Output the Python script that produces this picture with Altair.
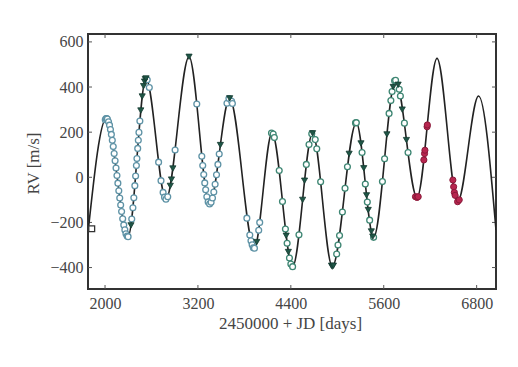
import altair as alt
import pandas as pd

# ---- model curve (read at extrema) ----
curve_x = [1784, 2017, 2297, 2529, 2787, 3085, 3351, 3609, 3928, 4157, 4423,
           4681, 4936, 5246, 5469, 5753, 6030, 6288, 6554, 6825, 7050]
curve_y = [-233, 261, -263, 438, -97, 534, -118, 350, -314, 197, -396,
           195, -396, 242, -266, 430, -89, 527, -108, 360, -233]

# ---- observations ----
blue_x = [2003, 2012, 2022,
          2030, 2045, 2058, 2070, 2082, 2094, 2106, 2118, 2130, 2142, 2154,
          2166, 2178, 2190, 2202, 2214, 2228, 2242, 2256, 2270, 2285, 2298,
          2345, 2360, 2372, 2385, 2395, 2405, 2412, 2422, 2430, 2438, 2450,
          2545, 2572, 2692, 2723, 2750, 2768, 2787, 2810, 2905,
          3185, 3250, 3262, 3275, 3288, 3300, 3315, 3332, 3351,
          3370, 3388, 3405, 3422, 3440, 3458, 3475,
          3575, 3600, 3635, 3645,
          3832, 3870, 3885, 3900, 3915, 3930, 3985, 3998]
blue_y = [255, 260, 260,
          258, 246, 231, 212, 190, 164, 136, 105, 73, 41, 8,
          -26, -60, -92, -123, -152, -184, -211, -233, -250, -260, -263,
          -185, -135, -91, -37, 6, 52, 83, 128, 164, 199, 249,
          432, 398, 67, -15, -67, -88, -97, -86, 121,
          325, 93, 52, 12, -25, -55, -86, -109, -118,
          -111, -92, -65, -31, 11, 57, 103,
          328, 349, 337, 327,
          -181, -256, -281, -299, -312, -314, -235, -200]

teal_x = [4150, 4172, 4187, 4250, 4292, 4330, 4352, 4382, 4400, 4423,
          4505, 4600, 4635, 4670, 4715, 4735, 4785,
          4992, 5009, 5029, 5066, 5100, 5131,
          5235, 5246, 5320, 5362, 5388, 5418, 5469,
          5583, 5611, 5669, 5692, 5708, 5740, 5753, 5800, 5815, 5867, 5914]
teal_y = [196, 192, 176, 30, -107, -229, -292, -358, -384, -396,
          -255, 57, 145, 193, 167, 126, -20,
          -340, -300, -258, -154, -49, 47,
          241, 242, 110, -30, -110, -190, -266,
          -19, 82, 283, 340, 380, 428, 430, 390, 360, 240, 110]

tri_x = [2335, 2462, 2480, 2498, 2510, 2520, 2530, 2843, 2858, 2876, 3085,
         3490, 3610, 3960, 4340, 4368, 4552, 4577, 4681,
         4925, 4936, 4950, 5153, 5306, 5342, 5378, 5400, 5440, 5458,
         5641, 5722, 5786, 5839, 5893]
tri_y = [-213, 296, 358, 404, 424, 435, 438, -38, -10, 39, 534,
         143, 350, -287, -259, -331, -100, -15, 195,
         -392, -396, -392, 104, 150, 40, -80, -145, -240, -263,
         190, 400, 410, 300, 165]

red_x = [6010, 6030, 6045, 6118, 6127, 6132, 6160, 6163,
         6493, 6503, 6512, 6522, 6554, 6575]
red_y = [-86, -89, -86, 77, 105, 120, 224, 232,
         -12, -42, -67, -80, -108, -100]

sq_x = [1828]
sq_y = [-228]

x_ticks = [2000, 3200, 4400, 5600, 6800]
y_ticks = [-400, -200, 0, 200, 400, 600]

W, H = 408, 255
FONT = "Liberation Serif"
TXT = "#454545"

xs = alt.Scale(domain=[1780, 7050], nice=False, zero=False)
ys = alt.Scale(domain=[-495, 635], nice=False, zero=False)
xaxis = alt.Axis(values=x_ticks, format="d", ticks=False, domain=False, grid=False,
                 labelFont=FONT, labelFontSize=16, labelColor=TXT, labelPadding=6,
                 title="2450000 + JD [days]", titleFont=FONT, titleFontSize=17,
                 titleFontWeight="normal", titleColor=TXT, titleX=202, titleY=34,
                 titleBaseline="middle", titleAlign="center")
yaxis = alt.Axis(values=y_ticks, format="d", ticks=False, domain=False, grid=False,
                 labelFont=FONT, labelFontSize=16, labelColor=TXT, labelPadding=5,
                 title="RV [m/s]", titleFont=FONT, titleFontSize=17,
                 titleFontWeight="normal", titleColor=TXT, titleX=-55, titleY=129,
                 titleAngle=270, titleBaseline="middle", titleAlign="center")


def enc(ch):
    return ch.encode(x=alt.X("x:Q", scale=xs, axis=xaxis),
                     y=alt.Y("y:Q", scale=ys, axis=yaxis))


curve = enc(alt.Chart(pd.DataFrame({"x": curve_x, "y": curve_y})).mark_line(
    color="#222222", strokeWidth=1.6, interpolate="monotone", clip=True))

blue = enc(alt.Chart(pd.DataFrame({"x": blue_x, "y": blue_y})).mark_point(
    shape="circle", filled=True, fill="white", stroke="#5f93a6", strokeWidth=1.3,
    size=34, opacity=1))
teal = enc(alt.Chart(pd.DataFrame({"x": teal_x, "y": teal_y})).mark_point(
    shape="circle", filled=True, fill="white", stroke="#3e8673", strokeWidth=1.3,
    size=34, opacity=1))
tri = enc(alt.Chart(pd.DataFrame({"x": tri_x, "y": tri_y})).mark_point(
    shape="triangle-down", filled=True, fill="#1f5646", stroke="#143a30",
    strokeWidth=0.8, size=38, opacity=1))
red = enc(alt.Chart(pd.DataFrame({"x": red_x, "y": red_y})).mark_point(
    shape="circle", filled=True, fill="#b8264f", stroke="#8a1a3a", strokeWidth=1,
    size=38, opacity=1))
sq = enc(alt.Chart(pd.DataFrame({"x": sq_x, "y": sq_y})).mark_point(
    shape="square", filled=True, fill="white", stroke="#333333", strokeWidth=1.3,
    size=34, opacity=1))

xt = pd.DataFrame({"x": x_ticks})
yt = pd.DataFrame({"y": y_ticks})
tick_col = "#555555"
xt_top = alt.Chart(xt).mark_rule(color=tick_col, strokeWidth=1).encode(
    x=alt.X("x:Q", scale=xs, axis=xaxis), y=alt.value(0), y2=alt.value(4))
xt_bot = alt.Chart(xt).mark_rule(color=tick_col, strokeWidth=1).encode(
    x=alt.X("x:Q", scale=xs, axis=xaxis), y=alt.value(H - 4), y2=alt.value(H))
yt_l = alt.Chart(yt).mark_rule(color=tick_col, strokeWidth=1).encode(
    y=alt.Y("y:Q", scale=ys, axis=yaxis), x=alt.value(0), x2=alt.value(4))
yt_r = alt.Chart(yt).mark_rule(color=tick_col, strokeWidth=1).encode(
    y=alt.Y("y:Q", scale=ys, axis=yaxis), x=alt.value(W - 4), x2=alt.value(W))

chart = alt.layer(xt_top, xt_bot, yt_l, yt_r, curve, blue, teal, tri, red, sq).properties(
    width=W, height=H,
    autosize=alt.AutoSizeParams(type="none"),
    padding={"left": 80, "top": 26, "right": 14, "bottom": 60},
    background="white",
).configure_view(stroke="#333333", strokeWidth=2)

chart.save("out.html", embed_options={"renderer": "svg", "actions": False})
